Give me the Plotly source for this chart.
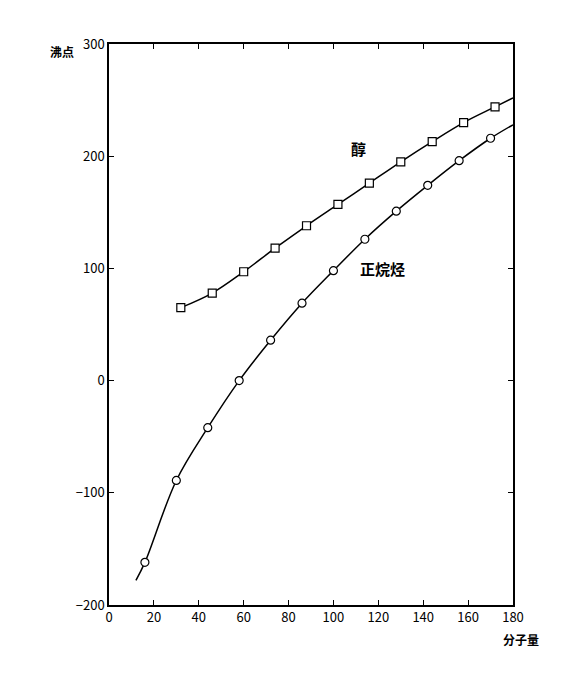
import plotly.graph_objects as go

# n-alkanes: molecular weight vs boiling point
alkane_mw = [16, 30, 44, 58, 72, 86, 100, 114, 128, 142, 156, 170]
alkane_bp = [-162, -89, -42, 0, 36, 69, 98, 126, 151, 174, 196, 216]
alkane_line_mw = [12] + alkane_mw + [180]
alkane_line_bp = [-178] + alkane_bp + [228]

# alcohols
alcohol_mw = [32, 46, 60, 74, 88, 102, 116, 130, 144, 158, 172]
alcohol_bp = [65, 78, 97, 118, 138, 157, 176, 195, 213, 230, 244]
alcohol_line_mw = alcohol_mw + [180]
alcohol_line_bp = alcohol_bp + [252]

x_ticks = [0, 20, 40, 60, 80, 100, 120, 140, 160, 180]
y_ticks = [-200, -100, 0, 100, 200, 300]

font = "Noto Sans CJK SC"

fig = go.Figure()
fig.add_trace(go.Scatter(x=alkane_line_mw, y=alkane_line_bp, mode="lines",
                         line=dict(color="black", width=1.5, shape="spline")))
fig.add_trace(go.Scatter(x=alcohol_line_mw, y=alcohol_line_bp, mode="lines",
                         line=dict(color="black", width=1.5, shape="spline")))
fig.add_trace(go.Scatter(x=alkane_mw, y=alkane_bp, mode="markers",
                         marker=dict(symbol="circle", size=8, color="white",
                                     line=dict(color="black", width=1.2))))
fig.add_trace(go.Scatter(x=alcohol_mw, y=alcohol_bp, mode="markers",
                         marker=dict(symbol="square", size=8, color="white",
                                     line=dict(color="black", width=1.2))))

axis_style = dict(showgrid=False, zeroline=False, showline=True, linecolor="black",
                  linewidth=1.5, mirror="ticks", ticks="inside", ticklen=5,
                  tickcolor="black", tickfont=dict(family=font, size=13, color="black"))
fig.update_xaxes(range=[0, 180], tickvals=x_ticks, **axis_style)
fig.update_yaxes(range=[-200, 300], tickvals=y_ticks, **axis_style)

fig.add_annotation(text="<b>醇</b>", x=111, y=207, showarrow=False,
                   font=dict(family=font, size=15, color="black"))
fig.add_annotation(text="<b>正烷烃</b>", x=122, y=100, showarrow=False,
                   font=dict(family=font, size=15, color="black"))
fig.add_annotation(text="<b>沸点</b>", xref="paper", yref="paper", x=-0.15, y=1.005,
                   showarrow=False, font=dict(family=font, size=12, color="black"))
fig.add_annotation(text="<b>分子量</b>", xref="paper", yref="paper", x=1.07, y=-0.08,
                   showarrow=False, font=dict(family=font, size=12, color="black"))

fig.update_layout(width=579, height=678, showlegend=False,
                  plot_bgcolor="white", paper_bgcolor="white",
                  margin=dict(l=101, r=74, t=36, b=81))
fig.write_html("out.html")
